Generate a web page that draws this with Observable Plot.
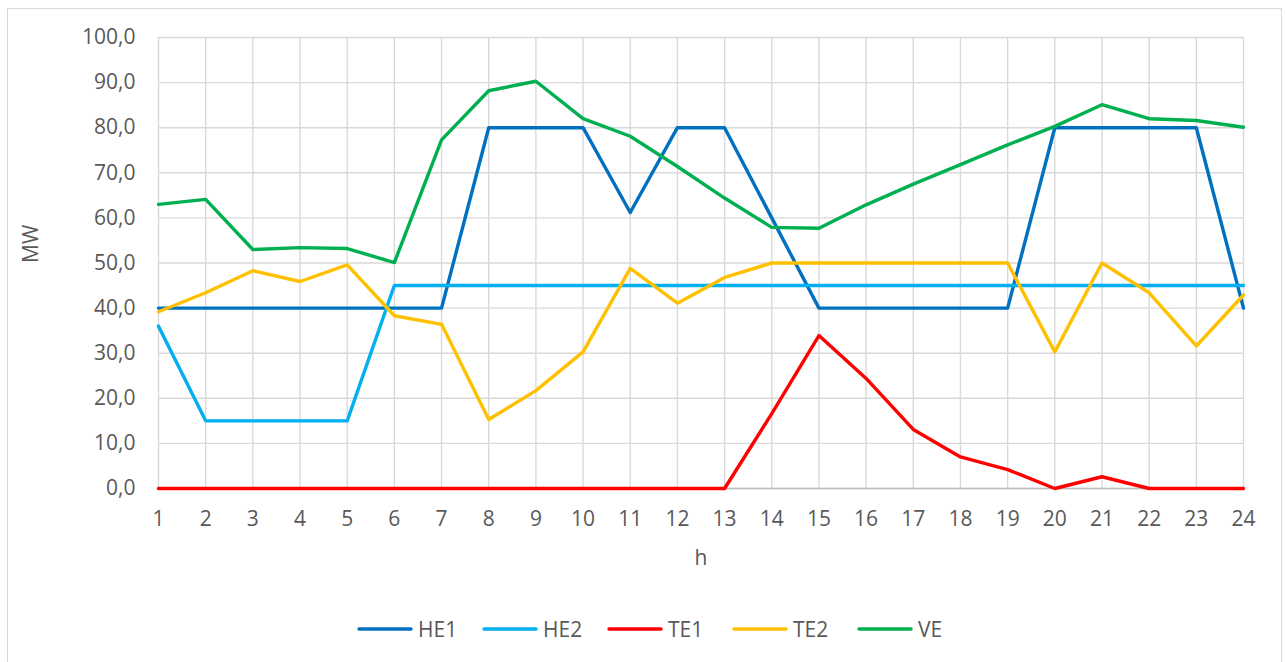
<!DOCTYPE html>
<html>
<head>
<meta charset="utf-8">
<script src="https://cdn.jsdelivr.net/npm/d3@7"></script>
<script src="https://cdn.jsdelivr.net/npm/@observablehq/plot@0.6"></script>
<style>
  html, body { margin: 0; padding: 0; background: #fff; overflow: hidden; }
  #wrap { position: relative; width: 1285px; height: 662px; font-family: "Open Sans", sans-serif; }
  #border { position: absolute; left: 7px; top: 8px; width: 1275px; height: 700px; border: 1.5px solid #d9d9d9; box-sizing: border-box; }
  #chart { position: absolute; left: 0; top: 0; }
  #legend { position: absolute; left: 357px; top: 613px; display: flex; align-items: center; height: 32px; }
  .item { display: flex; align-items: center; width: 125px; font-size: 21px; color: #595959; }
  .item svg { margin-right: 5px; }
</style>
</head>
<body>
<div id="wrap">
  <div id="border"></div>
  <div id="chart"></div>
  <div id="legend"></div>
</div>
<script>
const hours = [1,2,3,4,5,6,7,8,9,10,11,12,13,14,15,16,17,18,19,20,21,22,23,24];
const seriesNames = ["HE1", "HE2", "TE1", "TE2", "VE"];
const seriesColors = ["#0070C0", "#00B0F0", "#FF0000", "#FFC000", "#00B050"];
const HE1 = [40,40,40,40,40,40,40,80,80,80,61.2,80,80,60,40,40,40,40,40,80,80,80,80,40];
const HE2 = [36,15,15,15,15,45,45,45,45,45,45,45,45,45,45,45,45,45,45,45,45,45,45,45];
const TE1 = [0,0,0,0,0,0,0,0,0,0,0,0,0,16.6,33.9,24.4,13.1,7.0,4.2,0,2.6,0,0,0];
const TE2 = [39.2,43.4,48.3,45.9,49.6,38.3,36.4,15.3,21.7,30.3,48.8,41.1,46.8,50,50,50,50,50,50,30.3,50,43.4,31.6,42.9];
const VE  = [63.0,64.1,53.0,53.4,53.2,50.1,77.3,88.2,90.3,82.0,78.1,71.4,64.4,57.9,57.7,62.9,67.5,71.8,76.2,80.3,85.1,82.0,81.6,80.1];
const yTicks = [0,10,20,30,40,50,60,70,80,90,100];

const seriesValues = [HE1, HE2, TE1, TE2, VE];
const rows = [];
seriesNames.forEach((name, i) => {
  hours.forEach((h, j) => rows.push({series: name, h, v: seriesValues[i][j]}));
});

const fmt = d => d.toFixed(1).replace(".", ",");
const txt = "#595959";
const fs = 21;

const chart = Plot.plot({
  width: 1285,
  height: 600,
  marginLeft: 158,
  marginRight: 42,
  marginTop: 37,
  marginBottom: 112,
  style: { fontFamily: "'Open Sans', sans-serif", background: "transparent", overflow: "visible" },
  x: { type: "linear", domain: [1, 24] },
  y: { domain: [0, 100] },
  color: { domain: seriesNames, range: seriesColors },
  marks: [
    Plot.gridX(hours, { stroke: "#d9d9d9", strokeOpacity: 1, strokeWidth: 1.4 }),
    Plot.gridY(yTicks, { stroke: "#d9d9d9", strokeOpacity: 1, strokeWidth: 1.4 }),
    Plot.ruleY([0], { stroke: "#bfbfbf", strokeWidth: 1.4 }),
    Plot.axisX(hours, { tickSize: 0, tickPadding: 23, fontSize: fs, fill: txt, label: null, tickFormat: d => String(d) }),
    Plot.axisY(yTicks, { tickSize: 0, tickPadding: 23, fontSize: fs, fill: txt, label: null, tickFormat: fmt }),
    Plot.line(rows, { x: "h", y: "v", z: "series", stroke: "series", strokeWidth: 3.4, strokeLinejoin: "round", strokeLinecap: "round" }),
    Plot.text(["h"], { frameAnchor: "bottom", dy: 76, fontSize: fs, fill: txt }),
    Plot.text(["MW"], { frameAnchor: "left", dx: -127, rotate: -90, fontSize: fs, fill: txt })
  ]
});
document.getElementById("chart").appendChild(chart);

const legend = document.getElementById("legend");
seriesNames.forEach((name, i) => {
  const item = document.createElement("div");
  item.className = "item";
  item.innerHTML = `<svg width="56" height="8"><line x1="2" y1="4" x2="54" y2="4" stroke="${seriesColors[i]}" stroke-width="3.4" stroke-linecap="round"/></svg><span>${name}</span>`;
  legend.appendChild(item);
});
</script>
</body>
</html>
